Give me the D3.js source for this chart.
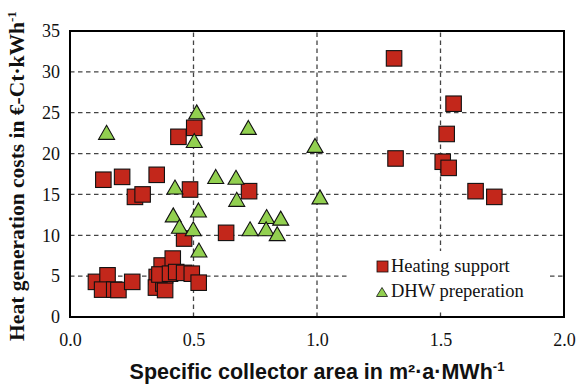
<!DOCTYPE html>
<html>
<head>
<meta charset="utf-8">
<script src="https://cdn.jsdelivr.net/npm/d3@7"></script>
<style>
  html, body { margin: 0; padding: 0; background: #fff; }
  svg { display: block; }
</style>
</head>
<body>
<div id="chart"></div>
<script>
// Heating support (squares)
const heating_x = [1.312, 1.553, 1.525, 1.509, 1.533, 1.642, 1.718, 1.318,
  0.439, 0.503, 0.135, 0.211, 0.351, 0.263, 0.294, 0.486, 0.462, 0.725, 0.632,
  0.105, 0.152, 0.130, 0.179, 0.196, 0.252,
  0.351, 0.348, 0.371, 0.378, 0.385, 0.385, 0.362, 0.416, 0.405, 0.430, 0.462, 0.493, 0.521];
const heating_y = [31.65, 26.1, 22.4, 19.0, 18.25, 15.4, 14.7, 19.4,
  22.05, 23.15, 16.8, 17.15, 17.4, 14.7, 15.0, 15.6, 9.6, 15.4, 10.3,
  4.3, 5.1, 3.35, 3.35, 3.3, 4.3,
  4.9, 3.6, 6.3, 4.1, 3.3, 5.1, 5.2, 7.15, 5.3, 5.5, 5.4, 5.3, 4.2];

// DHW preperation (triangles)
const dhw_x = [0.148, 0.513, 0.503, 0.722, 0.992, 1.012, 0.729, 0.796, 0.853, 0.794,
  0.839, 0.590, 0.672, 0.675, 0.520, 0.425, 0.418, 0.443, 0.499, 0.522];
const dhw_y = [22.6, 25.1, 21.6, 23.2, 21.0, 14.7, 10.8, 12.3, 12.1, 10.8,
  10.2, 17.2, 17.1, 14.4, 13.1, 15.9, 12.5, 11.1, 10.8, 8.2];

const x_ticks = [0, 0.5, 1.0, 1.5, 2.0];
const y_ticks = [0, 5, 10, 15, 20, 25, 30, 35];
const series_names = ['Heating support', 'DHW preperation'];

const width = 582, height = 385;
const margin = {top: 31, right: 18, bottom: 68, left: 70};
const serif = '"Liberation Serif", serif';
const sans = '"Liberation Sans", sans-serif';
const red = '#c3271b', green = '#92d050';

const svg = d3.select('#chart').append('svg')
  .attr('width', width).attr('height', height);

const x = d3.scaleLinear().domain([0, 2]).range([margin.left, width - margin.right]);
const y = d3.scaleLinear().domain([0, 35]).range([height - margin.bottom, margin.top]);

// gridlines
const grid = svg.append('g')
  .attr('stroke', '#444').attr('stroke-width', 1.3).attr('stroke-dasharray', '4.5,3.5');
grid.selectAll('line.h')
  .data(y_ticks.filter(d => d > 0 && d < 35))
  .join('line')
  .attr('x1', x(0)).attr('x2', x(2))
  .attr('y1', d => y(d)).attr('y2', d => y(d));
grid.selectAll('line.v')
  .data(x_ticks.filter(d => d > 0 && d < 2))
  .join('line')
  .attr('y1', y(0)).attr('y2', y(35))
  .attr('x1', d => x(d)).attr('x2', d => x(d));

// legend background covers the grid
const legend = svg.append('g');
legend.append('rect')
  .attr('x', 348).attr('y', 251).attr('width', 199).attr('height', 59)
  .attr('fill', '#fff');

// axes as plain tick labels (no tick marks)
const yAxis = svg.append('g')
  .attr('transform', `translate(${margin.left},0)`)
  .call(d3.axisLeft(y).tickValues(y_ticks).tickSize(0).tickPadding(10));
const xAxis = svg.append('g')
  .attr('transform', `translate(0,${y(0)})`)
  .call(d3.axisBottom(x).tickValues(x_ticks).tickFormat(d3.format('.1f')).tickSize(0).tickPadding(16));
[xAxis, yAxis].forEach(a => {
  a.select('.domain').remove();
  a.selectAll('text')
    .style('font-family', serif).style('font-size', '18px')
    .attr('fill', '#111');
});

// plot frame
svg.append('rect')
  .attr('x', x(0)).attr('y', y(35))
  .attr('width', x(2) - x(0)).attr('height', y(0) - y(35))
  .attr('fill', 'none').attr('stroke', '#000').attr('stroke-width', 2);

// markers
const sq = 15.5;
const heating = heating_x.map((d, i) => ({x: d, y: heating_y[i]}));
const dhw = dhw_x.map((d, i) => ({x: d, y: dhw_y[i]}));

svg.append('g').selectAll('rect')
  .data(heating)
  .join('rect')
  .attr('x', d => x(d.x) - sq / 2)
  .attr('y', d => y(d.y) - sq / 2)
  .attr('width', sq).attr('height', sq)
  .attr('fill', red).attr('stroke', '#111').attr('stroke-width', 1.1);

const tri = (cx, cy, w, h) => `M${cx},${cy - h / 2}L${cx + w / 2},${cy + h / 2}L${cx - w / 2},${cy + h / 2}Z`;

svg.append('g').selectAll('path')
  .data(dhw)
  .join('path')
  .attr('d', d => tri(x(d.x), y(d.y), 16, 14))
  .attr('fill', green).attr('stroke', '#111').attr('stroke-width', 1.1);

// legend entries
legend.append('rect')
  .attr('x', 377).attr('y', 261).attr('width', 11).attr('height', 11)
  .attr('fill', red).attr('stroke', '#111').attr('stroke-width', 0.8);
legend.append('path')
  .attr('d', tri(382, 292, 11, 9))
  .attr('fill', green).attr('stroke', '#111').attr('stroke-width', 0.8);
legend.selectAll('text')
  .data(series_names)
  .join('text')
  .attr('x', 391)
  .attr('y', (d, i) => 272 + i * 25)
  .style('font-family', serif).style('font-size', '18.5px').attr('fill', '#111')
  .text(d => d);

// axis titles
svg.append('text')
  .attr('transform', `translate(24,176) rotate(-90)`)
  .attr('text-anchor', 'middle')
  .style('font-family', serif).attr('font-weight', 'bold').style('font-size', '21.5px')
  .attr('fill', '#111')
  .html('Heat generation costs in €-Ct·kWh<tspan font-size="13" dy="-8">-1</tspan>');

svg.append('text')
  .attr('x', (x(0) + x(2)) / 2)
  .attr('y', 379)
  .attr('text-anchor', 'middle')
  .style('font-family', sans).attr('font-weight', 'bold').style('font-size', '21.5px')
  .attr('fill', '#111')
  .html('Specific collector area in m²·a·MWh<tspan font-size="13" dy="-8">-1</tspan>');
</script>
</body>
</html>
